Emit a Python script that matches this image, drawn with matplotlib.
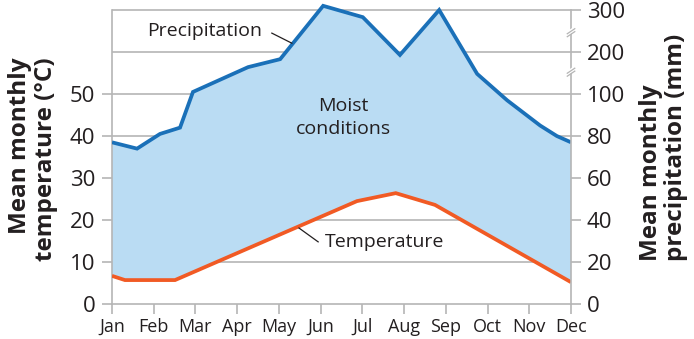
import numpy as np
import matplotlib
matplotlib.use('Agg')
import matplotlib.pyplot as plt

plt.rcParams['font.family'] = ['Open Sans', 'DejaVu Sans']

# %% data
months = ['Jan', 'Feb', 'Mar', 'Apr', 'May', 'Jun',
          'Jul', 'Aug', 'Sep', 'Oct', 'Nov', 'Dec']
# precipitation line vertices: month position (Jan = 0) and mm
precip_x = [0, 0.6, 1.15, 1.63, 1.94, 3.26, 4.03, 5.06, 6.01, 6.9, 7.84,
            8.75, 9.47, 10.26, 10.66, 11]
precip_mm = [77, 74, 81, 84, 105, 164, 183, 310, 283, 193, 300,
             148, 97, 85, 80, 77]
# temperature line vertices: month position and deg C
temp_x = [0, 0.31, 1.51, 5.87, 6.8, 7.74, 11]
temp_c = [6.7, 5.7, 5.7, 24.5, 26.4, 23.6, 5.2]

temp_ticks = [0, 10, 20, 30, 40, 50]
precip_ticks = [0, 20, 40, 60, 80, 100, 200, 300]


def mm_to_u(mm):
    # broken right scale: 0-100 mm at 2 mm per deg, then 100 mm per gridline
    mm = np.asarray(mm, float)
    return np.where(mm <= 100, mm / 2, 50 + (mm - 100) / 10)


# %% styles
grey = '#b5b5b5'
txt = '#231f20'
blue = '#1a70b8'
orange = '#f15a24'
fill = '#badcf3'

fig = plt.figure(figsize=(6.94, 3.39), dpi=100)
ax = fig.add_axes([0.1614, 0.1032, 0.6614, 0.892])
ax.set_xlim(0, 11)
ax.set_ylim(0, 72)

pu = mm_to_u(precip_mm)
# moist area between the two curves
ax.fill(np.r_[precip_x, temp_x[::-1]], np.r_[pu, temp_c[::-1]],
        color=fill, lw=0, zorder=1)

for u in mm_to_u(precip_ticks[1:]):
    ax.axhline(u, color=grey, lw=1.2, zorder=0.5)

ax.plot(precip_x, pu, color=blue, lw=2.7, zorder=3,
        solid_joinstyle='miter', solid_capstyle='butt')
ax.plot(temp_x, temp_c, color=orange, lw=2.7, zorder=3,
        solid_joinstyle='miter', solid_capstyle='butt')

# spines / ticks
for s in ['top', 'right']:
    ax.spines[s].set_visible(False)
for s in ['left', 'bottom']:
    ax.spines[s].set_color(grey)
    ax.spines[s].set_linewidth(1.2)
ax.spines['left'].set_bounds(0, 70)
ax.set_xticks(range(12))
ax.set_xticklabels(months)
ax.set_yticks(temp_ticks)
ax.tick_params(axis='x', length=7.5, width=1.2, color=grey, pad=2.5,
               labelsize=13, labelcolor=txt)
ax.tick_params(axis='y', length=7.5, width=1.2, color=grey, pad=4.5,
               labelsize=16, labelcolor=txt)

ax2 = ax.twinx()
ax2.set_ylim(ax.get_ylim())
for s in ['top', 'left', 'bottom']:
    ax2.spines[s].set_visible(False)
ax2.spines['right'].set_color(grey)
ax2.spines['right'].set_linewidth(1.2)
ax2.spines['right'].set_bounds(0, 70)
ax2.set_yticks(mm_to_u(precip_ticks))
ax2.set_yticklabels([str(t) for t in precip_ticks])
ax2.tick_params(axis='y', length=7.5, width=1.2, color=grey, pad=4,
                labelsize=16, labelcolor=txt)

# scale break marks on the right axis
for ub in [55.2, 64.6]:
    ax2.plot([11 - 0.09, 11 + 0.09], [ub - 0.25, ub + 0.95], color='white',
             lw=3, clip_on=False, zorder=5, solid_capstyle='butt')
    for d in [-0.35, 0.35]:
        ax2.plot([11 - 0.09, 11 + 0.09], [ub + d - 0.6, ub + d + 0.6],
                 color=grey, lw=0.9, clip_on=False, zorder=6)

# annotations
ax.text(2.23, 65.0, 'Precipitation', fontsize=14, color=txt,
        ha='center', va='center', zorder=4)
ax.plot([3.83, 4.31], [64.5, 62.1], color=txt, lw=0.9, zorder=4)
ax.text(5.54, 44.5, 'Moist\nconditions', fontsize=14, color=txt,
        ha='center', va='center', linespacing=1.35, zorder=4)
ax.text(5.10, 14.8, 'Temperature', fontsize=14, color=txt,
        ha='left', va='center', zorder=4)
ax.plot([4.48, 4.94], [18.1, 14.8], color=txt, lw=0.9, zorder=4)

fig.text(0.047, 0.53, 'Mean monthly\ntemperature (\u00b0C)', rotation=90,
         ha='center', va='center', fontsize=17.5, fontweight='bold',
         color=txt, linespacing=1.1, multialignment='right')
fig.text(0.956, 0.565, 'Mean monthly\nprecipitation (mm)', rotation=90,
         ha='center', va='center', fontsize=17.5, fontweight='bold',
         color=txt, linespacing=1.1, multialignment='left')

fig.savefig('out.png', dpi=100)
